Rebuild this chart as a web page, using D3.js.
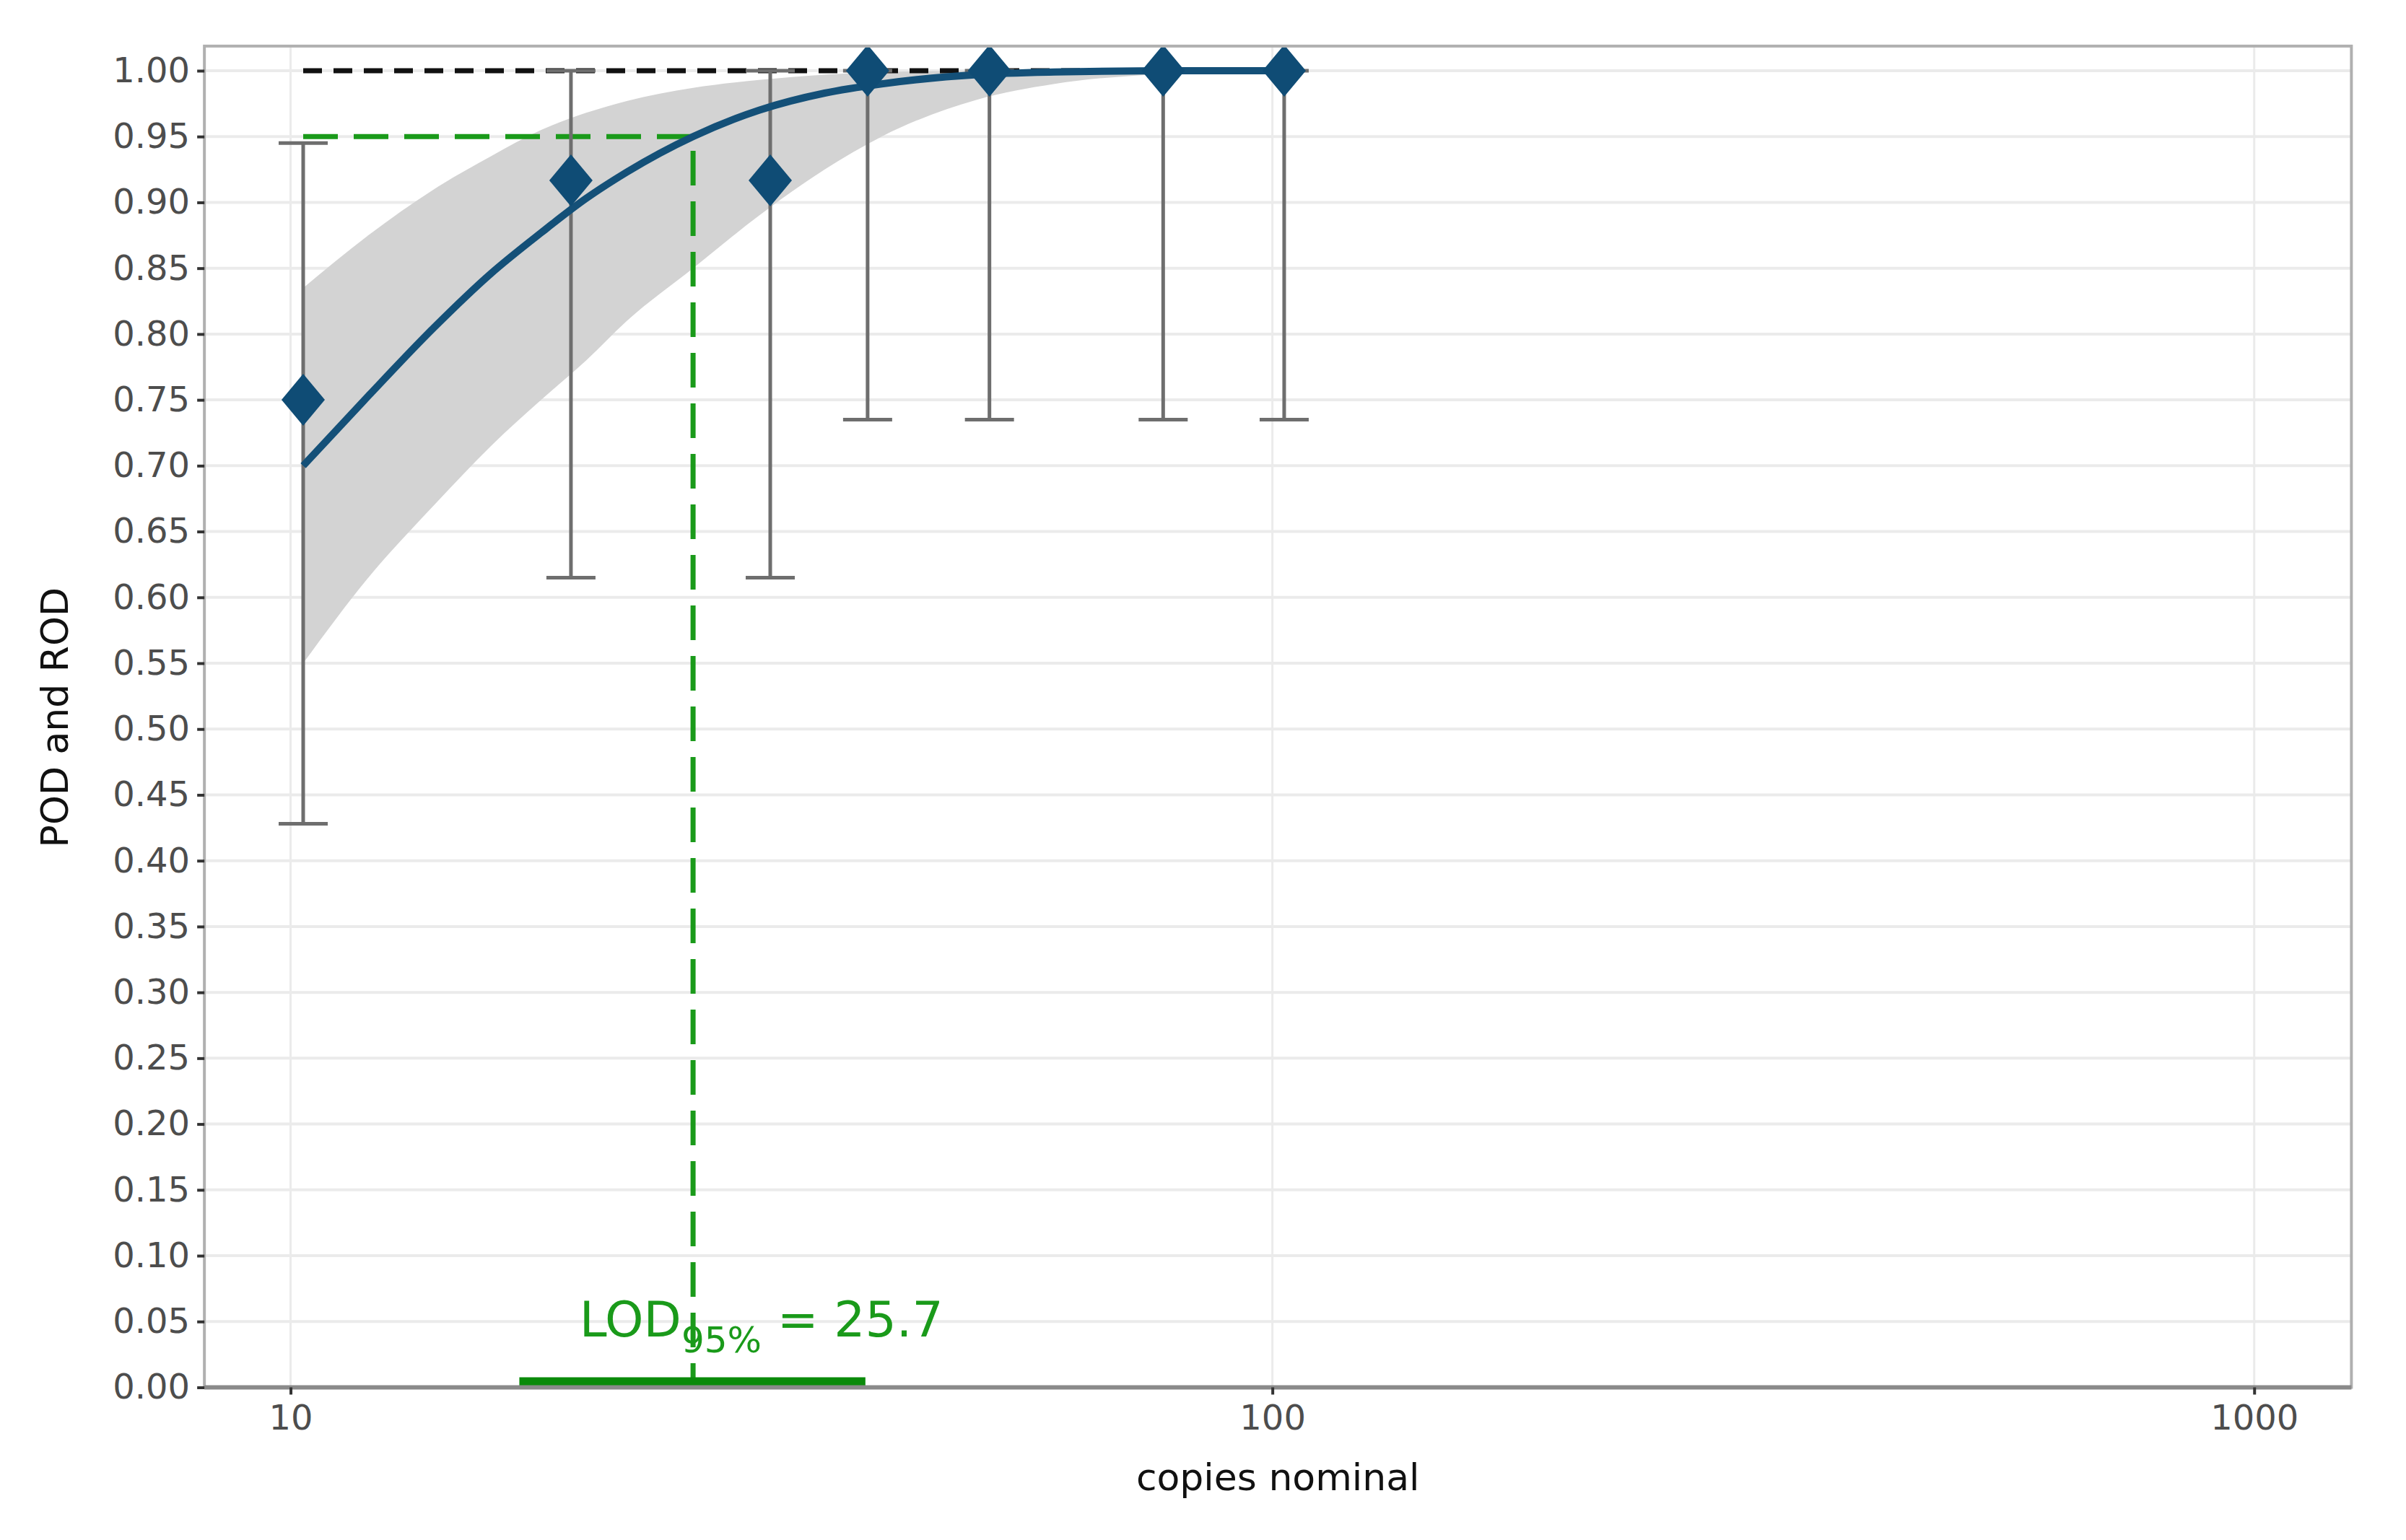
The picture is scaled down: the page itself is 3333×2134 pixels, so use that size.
<!DOCTYPE html>
<html><head><meta charset="utf-8">
<script src="https://cdn.jsdelivr.net/npm/d3@7"></script>
<style>body{margin:0;background:#fff}text{font-family:"DejaVu Sans",sans-serif}</style>
</head><body>
<svg id="chart" width="3333" height="2134"></svg>
<script>
// observed points
const doses = [10.3, 19.3, 30.8, 38.7, 51.5, 77.4, 102.8];
const pod = [0.75, 0.9167, 0.9167, 1, 1, 1, 1];
const ciLow = [0.428, 0.615, 0.615, 0.735, 0.735, 0.735, 0.735];
const ciHigh = [0.945, 1, 1, 1, 1, 1, 1];
// fitted curve and band
const fitX = [10.3, 12, 14, 16, 18, 20, 22, 25.7, 30, 35, 40, 50, 60, 80, 102.8];
const fitY = [0.70, 0.753, 0.805, 0.846, 0.877, 0.903, 0.923, 0.95, 0.97, 0.983, 0.99, 0.997, 0.999, 1.0, 1.0];
const bandLow = [0.55, 0.615, 0.67, 0.715, 0.75, 0.78, 0.81, 0.85, 0.89, 0.925, 0.95, 0.978, 0.99, 0.998, 1.0];
const bandHigh = [0.835, 0.875, 0.91, 0.935, 0.955, 0.968, 0.977, 0.987, 0.993, 0.997, 0.999, 1.0, 1.0, 1.0, 1.0];
const lod = 25.7, lodLow = 17.1, lodHigh = 38.5;
const yTicks = d3.range(0, 21).map(i => i * 0.05);
const xTicks = [10, 100, 1000];

const s = 2.129;
const svg = d3.select('#chart');
const L = 133 * s, R = 1530 * s, T = 30 * s, B = 903 * s;
const x = d3.scaleLog().domain([8.17, 1256]).range([L, R]);
const y = d3.scaleLinear().domain([0, 1.0187]).range([B, T]);

// grid
svg.selectAll('.gy').data(yTicks).enter().append('line')
    .attr('x1', L).attr('x2', R).attr('y1', d => y(d)).attr('y2', d => y(d))
    .attr('stroke', '#ebebeb').attr('stroke-width', 4);
svg.selectAll('.gx').data(xTicks).enter().append('line')
    .attr('x1', d => x(d)).attr('x2', d => x(d)).attr('y1', T).attr('y2', B)
    .attr('stroke', '#ebebeb').attr('stroke-width', 3);

// band
const idx = d3.range(fitX.length);
svg.append('path').datum(idx)
    .attr('d', d3.area().curve(d3.curveMonotoneX)
        .x(i => x(fitX[i])).y0(i => y(bandLow[i])).y1(i => y(bandHigh[i])))
    .attr('fill', '#d3d3d3');

// reference lines
svg.append('line').attr('x1', x(doses[0])).attr('x2', x(doses[6]))
    .attr('y1', y(1)).attr('y2', y(1))
    .attr('stroke', '#111').attr('stroke-width', 7).attr('stroke-dasharray', '26,16');
svg.append('path')
    .attr('d', `M${x(doses[0])},${y(0.95)}H${x(lod)}V${y(0)}`)
    .attr('fill', 'none').attr('stroke', '#1a9a1a').attr('stroke-width', 7).attr('stroke-dasharray', '48,22');

// error bars
const g = svg.append('g').attr('stroke', '#6e6e6e').attr('stroke-width', 5);
doses.forEach((d, i) => {
    g.append('line').attr('x1', x(d)).attr('x2', x(d)).attr('y1', y(ciLow[i])).attr('y2', y(ciHigh[i]));
    [ciLow[i], ciHigh[i]].forEach(v => g.append('line')
        .attr('x1', x(d) - 34).attr('x2', x(d) + 34).attr('y1', y(v)).attr('y2', y(v)));
});

// fit
svg.append('path').datum(idx)
    .attr('d', d3.line().curve(d3.curveMonotoneX).x(i => x(fitX[i])).y(i => y(fitY[i])))
    .attr('fill', 'none').attr('stroke', '#145078').attr('stroke-width', 10);

// points
svg.selectAll('.pt').data(doses).enter().append('path')
    .attr('transform', (d, i) => `translate(${x(d)},${y(pod[i])})`)
    .attr('d', 'M0,-36L30,0L0,36L-30,0Z').attr('fill', '#0f4c75');

// LOD interval
svg.append('line').attr('x1', x(lodLow)).attr('x2', x(lodHigh)).attr('y1', y(0) - 7).attr('y2', y(0) - 7)
    .attr('stroke', '#0a8a0a').attr('stroke-width', 14);
const lt = svg.append('text').attr('x', 377 * s).attr('y', 870 * s)
    .attr('fill', '#1a9a1a').attr('font-size', 68);
lt.append('tspan').text('LOD');
lt.append('tspan').attr('dy', 22).attr('font-size', 50).text('95%');
lt.append('tspan').attr('dy', -22).text(' = 25.7');

// panel border
svg.append('rect').attr('x', L).attr('y', T).attr('width', R - L).attr('height', B - T)
    .attr('fill', 'none').attr('stroke', '#b0b0b0').attr('stroke-width', 4);
svg.append('line').attr('x1', L).attr('x2', R).attr('y1', B).attr('y2', B)
    .attr('stroke', '#8a8a8a').attr('stroke-width', 6);

// axes
const ya = svg.append('g').attr('transform', `translate(${L},0)`)
    .call(d3.axisLeft(y).tickValues(yTicks).tickFormat(d3.format('.2f')).tickSize(10).tickPadding(10));
const xa = svg.append('g').attr('transform', `translate(0,${B})`)
    .call(d3.axisBottom(x).tickValues(xTicks).tickFormat(d3.format('d')).tickSize(10).tickPadding(14));
[ya, xa].forEach(a => {
    a.select('.domain').remove();
    a.selectAll('line').attr('stroke', '#333').attr('stroke-width', 4);
    a.selectAll('text').attr('font-size', 48).attr('fill', '#4d4d4d').attr('font-family', '"DejaVu Sans",sans-serif');
});

svg.append('text').attr('x', (L + R) / 2).attr('y', 970 * s).attr('text-anchor', 'middle')
    .attr('font-size', 52).attr('fill', '#111').text('copies nominal');
svg.append('text').attr('transform', `translate(${44 * s},${467 * s}) rotate(-90)`)
    .attr('text-anchor', 'middle').attr('font-size', 52).attr('fill', '#111').text('POD and ROD');
</script>
</body></html>
